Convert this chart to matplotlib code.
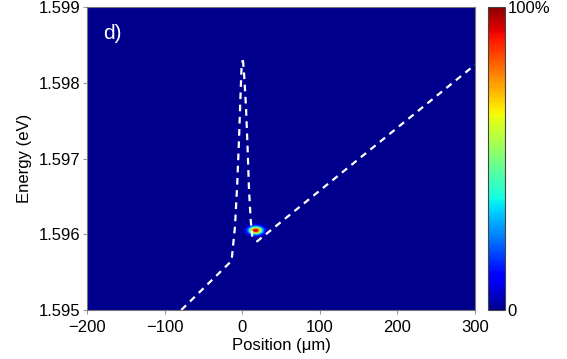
import numpy as np
import matplotlib
matplotlib.use("Agg")
import matplotlib.pyplot as plt
from matplotlib.colors import ListedColormap

plt.rcParams['font.family'] = ['Liberation Sans', 'DejaVu Sans']

# dispersion branches (position in um, energy in eV)
lower_x = [-79, -16, -14, -9.7, -6.7, -4.5, -2.3, -1.0, 0.6]
lower_y = [1.5950, 1.59563, 1.59566, 1.59610, 1.59668, 1.59725, 1.59791, 1.59826, 1.5983]
peak_x = [0.6, 2.0, 4.5, 6.7, 8.4, 10.6, 12.6]
peak_y = [1.5983, 1.59813, 1.59769, 1.59711, 1.59659, 1.59619, 1.59597]
upper_x = [18, 300]
upper_y = [1.5959, 1.59824]

# emission spot
spot_x = 17.4
spot_y = 1.59605
spot_wx = 6.0
spot_wy = 3.5e-5

xlim = (-200, 300)
ylim = (1.595, 1.599)
xticks = [-200, -100, 0, 100, 200, 300]
yticks = [1.595, 1.596, 1.597, 1.598, 1.599]

# matlab-like jet (starts a bit brighter than matplotlib's)
cmap = ListedColormap(plt.get_cmap('jet')(np.linspace(0.014, 0.986, 256)))

xs = np.linspace(xlim[0], xlim[1], 1000)
ys = np.linspace(ylim[0], ylim[1], 800)
X, Y = np.meshgrid(xs, ys)
Z = np.exp(-((X - spot_x) ** 2) / (2 * spot_wx ** 2) - ((Y - spot_y) ** 2) / (2 * spot_wy ** 2))

fig = plt.figure(figsize=(5.67, 3.59), dpi=100)
ax = fig.add_axes([0.1543, 0.1365, 0.6834, 0.8432])
cax = fig.add_axes([0.8601, 0.1365, 0.0305, 0.8432])

im = ax.imshow(Z, extent=[xlim[0], xlim[1], ylim[0], ylim[1]], origin='lower',
               aspect='auto', cmap=cmap, vmin=0, vmax=1, interpolation='bilinear')

dash = dict(color='white', lw=1.6, ls=(0, (3, 2.5)))
ax.plot(lower_x, lower_y, **dash)
ax.plot(peak_x, peak_y, **dash)
ax.plot(upper_x, upper_y, **dash)

ax.set_xlim(xlim)
ax.set_ylim(ylim)
ax.set_xticks(xticks)
ax.set_yticks(yticks)
ax.set_yticklabels(["%.3f" % v for v in yticks])
ax.tick_params(direction='out', length=3, color='#999999', labelsize=12)
ax.tick_params(axis='x', pad=4.5)
ax.tick_params(axis='y', pad=2)
for s in ax.spines.values():
    s.set_color('#777777')
    s.set_linewidth(0.8)
ax.set_xlabel("Position (μm)", fontsize=12, labelpad=2)
ax.set_ylabel("Energy (eV)", fontsize=12, labelpad=5)

ax.text(0.04, 0.915, "d)", transform=ax.transAxes, color='white', fontsize=15,
        ha='left', va='center')

cb = fig.colorbar(im, cax=cax)
cb.set_ticks([0, 1])
cb.set_ticklabels(["0", "100%"])
cb.ax.tick_params(length=0, labelsize=12, pad=2)
cb.outline.set_edgecolor('#444444')
cb.outline.set_linewidth(0.8)

fig.savefig("out.png", dpi=100)
